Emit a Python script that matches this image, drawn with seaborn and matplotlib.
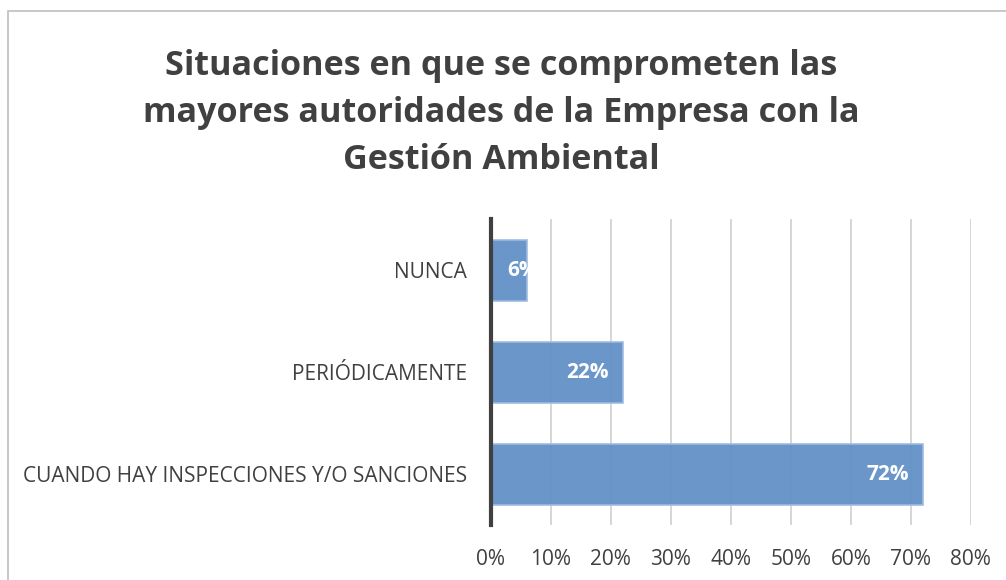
import matplotlib
matplotlib.use("Agg")
import matplotlib.pyplot as plt
import matplotlib.patches as mpatches
import numpy as np
import pandas as pd
import seaborn as sns

# Datos del gráfico
categorias = ["NUNCA", "PERIÓDICAMENTE", "CUANDO HAY INSPECCIONES Y/O SANCIONES"]
porcentajes = [6, 22, 72]
ticks_x = [0, 10, 20, 30, 40, 50, 60, 70, 80]
titulo = "Situaciones en que se comprometen las\nmayores autoridades de la Empresa con la\nGestión Ambiental"

sns.set_style("white")
plt.rcParams["font.family"] = ["Open Sans", "DejaVu Sans"]

gris = "#404040"
azul = "#6593C9"

df = pd.DataFrame({"categoria": categorias, "valor": porcentajes})

fig = plt.figure(figsize=(10.06, 5.8), dpi=100)
ax = fig.add_axes([0.488, 0.0948, 0.477, 0.5268])

sns.barplot(data=df, x="valor", y="categoria", orient="h", color=azul,
            width=0.6, saturation=1, ax=ax, zorder=3)
for p in ax.patches:
    p.set_edgecolor("#9DBBE0")
    p.set_linewidth(1.2)
    p.set_alpha(0.97)

ax.set_xlim(0, 80)
ax.set_xticks(ticks_x)
ax.set_xticklabels([f"{t}%" for t in ticks_x])
ax.grid(axis="x", color="#D0D0D0", linewidth=1.2, zorder=0)
ax.set_xlabel("")
ax.set_ylabel("")
ax.tick_params(axis="both", labelsize=15, colors=gris, length=0)
ax.tick_params(axis="x", pad=17)
ax.tick_params(axis="y", pad=17)
for s in ["top", "right", "bottom"]:
    ax.spines[s].set_visible(False)
ax.spines["left"].set_color(gris)
ax.spines["left"].set_linewidth(3)
ax.spines["left"].set_zorder(5)

# Etiquetas de datos
for i, v in enumerate(porcentajes):
    if v > 10:
        ax.text(v - 2.3, i, f"{v}%", ha="right", va="center", color="white",
                fontsize=15, fontweight="bold", zorder=6)
    else:
        ax.text(2.7, i, f"{v}%", ha="left", va="center", color="white",
                fontsize=15, fontweight="bold", zorder=6)

fig.text(0.498, 0.805, titulo, ha="center", va="center", fontsize=24.6,
         fontweight="bold", color=gris, linespacing=1.5)

# Marco del gráfico
marco = mpatches.Rectangle((8 / 1006, -0.05), 1.1, 1 - 11 / 580 + 0.05,
                           transform=fig.transFigure, fill=False,
                           edgecolor="#BFBFBF", linewidth=1.2)
fig.patches.append(marco)

fig.savefig("out.png", dpi=100)
